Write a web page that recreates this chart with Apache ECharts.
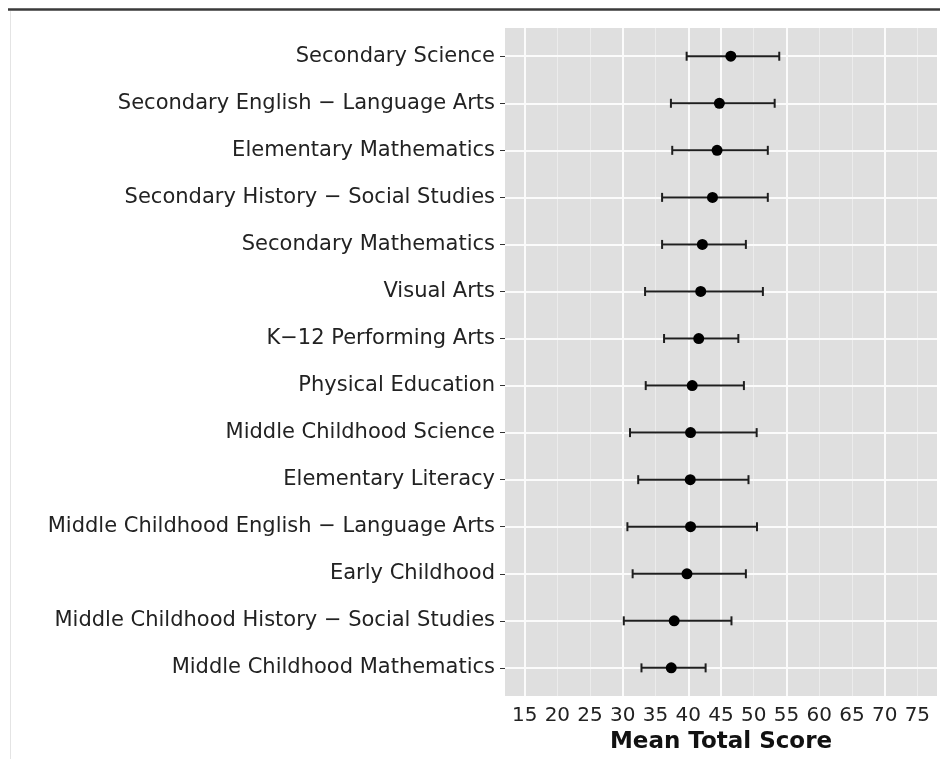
<!DOCTYPE html>
<html>
<head>
<meta charset="utf-8">
<script src="https://cdn.jsdelivr.net/npm/echarts@6/dist/echarts.min.js"></script>
<style>
html,body{margin:0;padding:0;background:#fff;}
#chart{width:940px;height:759px;}
</style>
</head>
<body>
<div id="chart"></div>
<script>
// ---- data (top to bottom as displayed) ----
var categories = [
  "Secondary Science",
  "Secondary English \u2212 Language Arts",
  "Elementary Mathematics",
  "Secondary History \u2212 Social Studies",
  "Secondary Mathematics",
  "Visual Arts",
  "K\u221212 Performing Arts",
  "Physical Education",
  "Middle Childhood Science",
  "Elementary Literacy",
  "Middle Childhood English \u2212 Language Arts",
  "Early Childhood",
  "Middle Childhood History \u2212 Social Studies",
  "Middle Childhood Mathematics"
];
var means = [46.5, 44.75, 44.4, 43.7, 42.15, 41.9, 41.6, 40.6, 40.35, 40.3, 40.35, 39.8, 37.85, 37.4];
var lower = [39.75, 37.35, 37.55, 36.0, 36.0, 33.4, 36.3, 33.5, 31.1, 32.35, 30.7, 31.5, 30.15, 32.85];
var upper = [53.9, 53.2, 52.15, 52.15, 48.8, 51.4, 47.65, 48.5, 50.45, 49.2, 50.5, 48.8, 46.6, 42.65];
var xTicks = [15, 20, 25, 30, 35, 40, 45, 50, 55, 60, 65, 70, 75];
var majorGrid = [15, 30, 40, 45, 55, 70];
var minorGrid = [20, 25, 35, 50, 60, 65, 75];

var idx = categories.map(function (c, i) { return i; });
var FONT = "DejaVu Sans";

var chart = echarts.init(document.getElementById('chart'), null, {renderer: 'canvas'});

var option = {
  animation: false,
  backgroundColor: '#ffffff',
  graphic: [
    {type: 'line', shape: {x1: 8, y1: 9.5, x2: 940, y2: 9.5}, style: {stroke: '#3a3a3a', lineWidth: 2.5}, z: 100},
    {type: 'line', shape: {x1: 10.5, y1: 11, x2: 10.5, y2: 759}, style: {stroke: '#e4e4e4', lineWidth: 1}, z: 100}
  ],
  grid: {
    left: 505, right: 3, top: 28, bottom: 61,
    show: true, backgroundColor: '#dfdfdf', borderWidth: 0
  },
  xAxis: {
    type: 'value', min: 12, max: 78,
    axisLine: {show: false},
    splitLine: {show: false},
    axisTick: {show: true, customValues: xTicks, length: 6, lineStyle: {color: '#333', width: 1}},
    axisLabel: {customValues: xTicks, margin: 10, color: '#222', fontFamily: FONT, fontSize: 20},
    name: 'Mean Total Score', nameLocation: 'middle', nameGap: 30,
    nameTextStyle: {fontFamily: FONT, fontSize: 23, fontWeight: 'bold', color: '#111'}
  },
  yAxis: {
    type: 'value', min: -0.6, max: 13.6, inverse: true,
    axisLine: {show: false},
    splitLine: {show: false},
    axisTick: {show: true, customValues: idx, length: 5, lineStyle: {color: '#333', width: 1}},
    axisLabel: {
      customValues: idx, margin: 10, color: '#222', fontFamily: FONT, fontSize: 21,
      formatter: function (v) { return categories[Math.round(v)] || ''; }
    }
  },
  series: [
    {
      type: 'line', data: [], silent: true, z: 1,
      markLine: {
        silent: true, symbol: 'none', label: {show: false}, z: 1, animation: false,
        data: minorGrid.map(function (v) { return {xAxis: v, lineStyle: {color: '#ececec', width: 1, type: 'solid'}}; })
          .concat(majorGrid.map(function (v) { return {xAxis: v, lineStyle: {color: '#fbfbfb', width: 2, type: 'solid'}}; }))
          .concat(idx.map(function (v) { return {yAxis: v, lineStyle: {color: '#fbfbfb', width: 2, type: 'solid'}}; }))
      }
    },
    {
      type: 'custom', z: 3,
      data: idx.map(function (i) { return [lower[i], upper[i], i]; }),
      renderItem: function (params, api) {
        var y = api.value(2);
        var p1 = api.coord([api.value(0), y]);
        var p2 = api.coord([api.value(1), y]);
        var h = 4.5;
        var st = {stroke: '#1e1e1e', lineWidth: 2};
        return {
          type: 'group',
          children: [
            {type: 'line', shape: {x1: p1[0], y1: p1[1], x2: p2[0], y2: p2[1]}, style: st},
            {type: 'line', shape: {x1: p1[0], y1: p1[1] - h, x2: p1[0], y2: p1[1] + h}, style: st},
            {type: 'line', shape: {x1: p2[0], y1: p2[1] - h, x2: p2[0], y2: p2[1] + h}, style: st}
          ]
        };
      }
    },
    {
      type: 'scatter', z: 4,
      symbol: 'circle', symbolSize: 11,
      itemStyle: {color: '#000', opacity: 1},
      data: idx.map(function (i) { return [means[i], i]; })
    }
  ]
};
chart.setOption(option);
</script>
</body>
</html>
